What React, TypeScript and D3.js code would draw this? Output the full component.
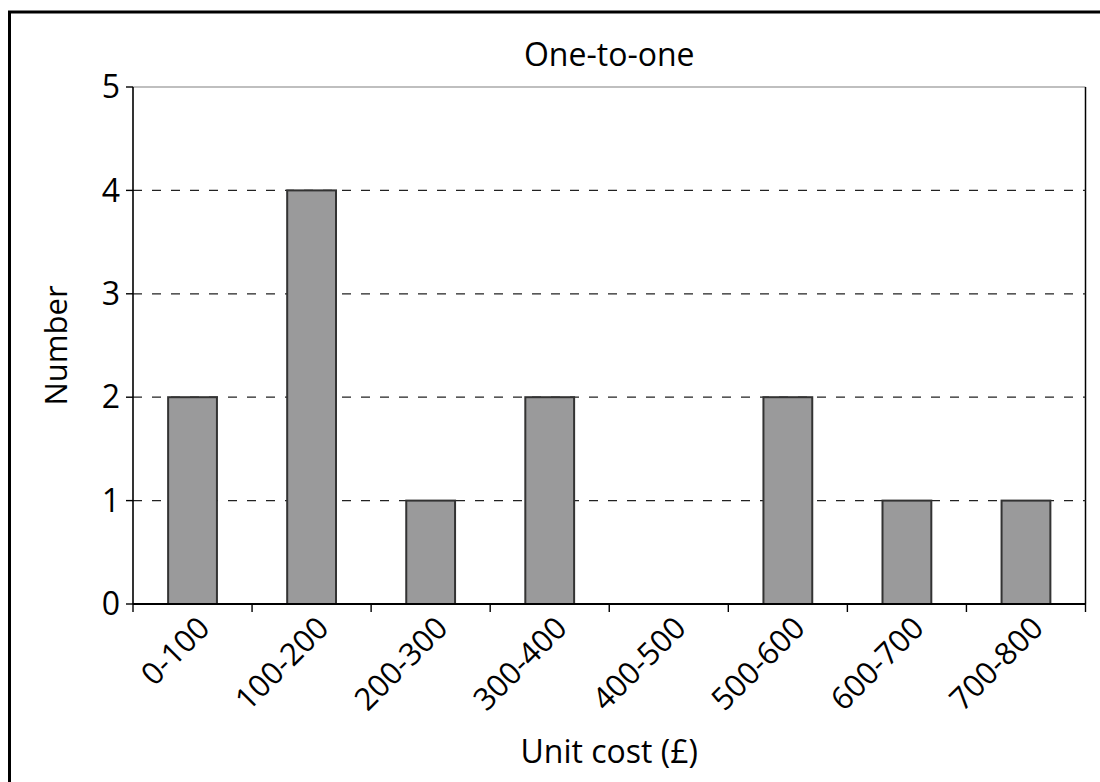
import React, { useEffect } from "react";
import * as d3 from "d3";

const categories = ["0-100", "100-200", "200-300", "300-400", "400-500", "500-600", "600-700", "700-800"];
const counts = [2, 4, 1, 2, 0, 2, 1, 1];
const yTicks = [0, 1, 2, 3, 4, 5];
const chartTitle = "One-to-one";
const xTitle = "Unit cost (£)";
const yTitle = "Number";

const W = 1100;
const H = 782;
const plot = { left: 133, right: 1085.5, top: 87, bottom: 604 };
const FONT = "'Open Sans', 'Noto Sans', sans-serif";

export default function App() {
  useEffect(() => {
    document.body.style.margin = "0";
  }, []);

  const x = d3.scaleBand<string>().domain(categories).range([plot.left, plot.right]).padding(0);
  const y = d3.scaleLinear().domain([0, 5]).range([plot.bottom, plot.top]);
  const bw = x.bandwidth();
  const barW = bw * 0.41;

  const boundaries = categories.map((c) => x(c) as number).concat([plot.right]);

  return (
    <svg width={W} height={H} style={{ display: "block", background: "#fff" }} fontFamily={FONT}>
      {/* outer frame */}
      <rect x={9.5} y={12} width={1200} height={900} fill="none" stroke="#000" strokeWidth={3} />

      {/* title */}
      <text x={(plot.left + plot.right) / 2} y={66} textAnchor="middle" fontSize={32} fill="#000">
        {chartTitle}
      </text>

      {/* plot frame top & right */}
      <line x1={plot.left} x2={plot.right} y1={plot.top} y2={plot.top} stroke="#808080" strokeWidth={1.2} />
      <line x1={plot.right} x2={plot.right} y1={plot.top} y2={plot.bottom} stroke="#000" strokeWidth={1.5} />

      {/* gridlines */}
      {yTicks
        .filter((t) => t > 0 && t < 5)
        .map((t) => (
          <line
            key={"g" + t}
            x1={plot.left}
            x2={plot.right}
            y1={y(t)}
            y2={y(t)}
            stroke="#222"
            strokeWidth={1.3}
            strokeDasharray="9,10"
          />
        ))}

      {/* bars */}
      {categories.map((c, i) =>
        counts[i] > 0 ? (
          <rect
            key={"b" + c}
            x={(x(c) as number) + (bw - barW) / 2}
            y={y(counts[i])}
            width={barW}
            height={y(0) - y(counts[i])}
            fill="#9a9a9b"
            stroke="#333"
            strokeWidth={2}
          />
        ) : null
      )}

      {/* y axis */}
      <line x1={plot.left} x2={plot.left} y1={plot.top} y2={plot.bottom} stroke="#000" strokeWidth={1.6} />
      {yTicks.map((t) => (
        <g key={"y" + t}>
          <line x1={plot.left - 7} x2={plot.left} y1={y(t)} y2={y(t)} stroke="#000" strokeWidth={1.4} />
          <text x={plot.left - 13} y={y(t)} dy="0.35em" textAnchor="end" fontSize={32} fill="#000">
            {t}
          </text>
        </g>
      ))}

      {/* x axis */}
      <line x1={plot.left} x2={plot.right} y1={plot.bottom} y2={plot.bottom} stroke="#000" strokeWidth={2} />
      {boundaries.map((bx, i) => (
        <line key={"xt" + i} x1={bx} x2={bx} y1={plot.bottom} y2={plot.bottom + 8} stroke="#000" strokeWidth={1.4} />
      ))}
      {categories.map((c) => {
        const cx = (x(c) as number) + bw / 2 + 19;
        const cy = plot.bottom + 26;
        return (
          <text
            key={"xl" + c}
            x={cx}
            y={cy}
            textAnchor="end"
            fontSize={31}
            fill="#000"
            transform={`rotate(-45, ${cx}, ${cy})`}
          >
            {c}
          </text>
        );
      })}

      {/* axis titles */}
      <text x={(plot.left + plot.right) / 2} y={763} textAnchor="middle" fontSize={32} fill="#000">
        {xTitle}
      </text>
      <text
        x={0}
        y={0}
        textAnchor="middle"
        fontSize={31}
        fill="#000"
        transform={`translate(67, ${(plot.top + plot.bottom) / 2}) rotate(-90)`}
      >
        {yTitle}
      </text>
    </svg>
  );
}
